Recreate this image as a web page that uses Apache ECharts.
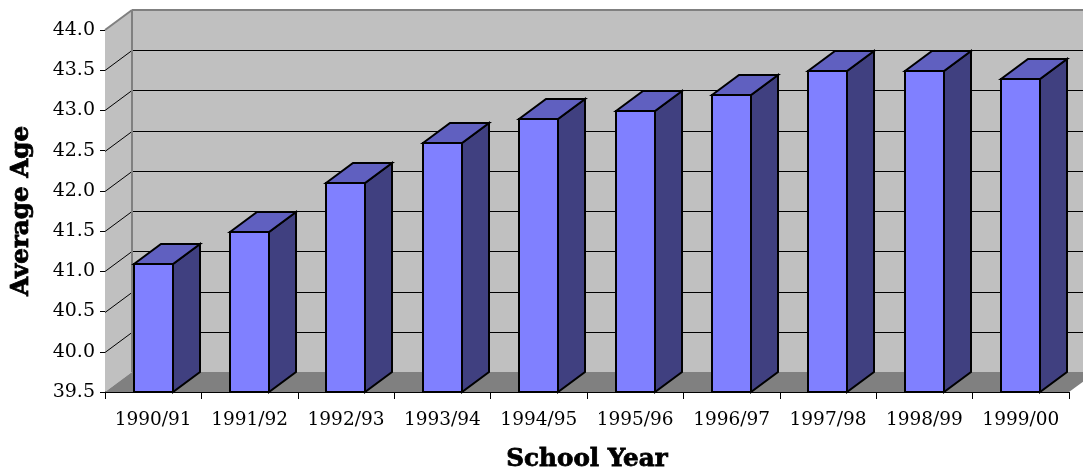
<!DOCTYPE html>
<html><head><meta charset="utf-8">
<script src="https://cdn.jsdelivr.net/npm/echarts@6/dist/echarts.min.js"></script>
<style>html,body{margin:0;padding:0;background:#fff}#c{width:1083px;height:468px}</style>
</head><body><div id="c"></div>
<script>
const categories = ['1990/91','1991/92','1992/93','1993/94','1994/95','1995/96','1996/97','1997/98','1998/99','1999/00'];
const averageAge = [41.1,41.5,42.1,42.6,42.9,43.0,43.2,43.5,43.5,43.4];
const yMin = 39.5, yMax = 44.0, yStep = 0.5;
const yTicks = [39.5,40,40.5,41,41.5,42,42.5,43,43.5,44];
const DX = 27, DY = -20;
const FONT = '"DejaVu Serif", serif';

function poly(points, fill, stroke, lw) {
  return {type:'polygon', shape:{points}, style:{fill, stroke, lineWidth:lw, lineJoin:'miter'}};
}
function line(x1,y1,x2,y2,stroke,lw){
  return {type:'line', shape:{x1,y1,x2,y2}, style:{stroke, lineWidth:lw, fill:null}};
}
function renderWalls(params, api){
  const r = params.coordSys, L=r.x, R=r.x+r.width, T=r.y, B=r.y+r.height;
  const ch = [];
  ch.push(poly([[L+DX,T+DY],[R+DX,T+DY],[R+DX,B+DY],[L+DX,B+DY]],'#C0C0C0',null,0));
  ch.push(poly([[L,T],[L+DX,T+DY],[L+DX,B+DY],[L,B]],'#C0C0C0',null,0));
  ch.push(poly([[L,B],[L+DX,B+DY],[R+DX,B+DY],[R,B]],'#808080',null,0));
  yTicks.forEach(t=>{
    if(t===yMin||t===yMax) return;
    const y=Math.round(api.coord([0,t])[1])+0.5;
    ch.push(line(L,y,L+DX,y+DY,'#000',1));
    ch.push(line(L+DX,y+DY,R+DX,y+DY,'#000',1));
  });
  ch.push(line(L,T,L+DX,T+DY,'#808080',2));
  ch.push(line(L+DX,T+DY,R+DX,T+DY,'#808080',2));
  ch.push(line(L+DX,T+DY,L+DX,B+DY,'#808080',2));
  return {type:'group',children:ch};
}
function renderBar(params, api){
  const c = api.coord([api.value(0), api.value(1)]);
  const base = api.coord([api.value(0), yMin]);
  const w = api.size([1,0])[0]*0.405;
  const x0=Math.round(c[0]-w/2), x1=x0+39, y=Math.ceil(c[1]), b=Math.round(base[1]);
  return {type:'group',children:[
    poly([[x1,y],[x1+DX,y+DY],[x1+DX,b+DY],[x1,b]],'#404080','#000',2),
    poly([[x0,y],[x0+DX,y+DY],[x1+DX,y+DY],[x1,y]],'#6060C0','#000',2),
    poly([[x0,y],[x1,y],[x1,b],[x0,b]],'#8080FF','#000',2)
  ]};
}
const chart = echarts.init(document.getElementById('c'),null,{renderer:'canvas'});
chart.setOption({
  animation:false,
  backgroundColor:'#fff',
  grid:{left:105,right:14,top:30,bottom:76,containLabel:false,outerBoundsMode:'none'},
  xAxis:{type:'category',data:categories,boundaryGap:true,
    name:'School Year',nameLocation:'middle',nameGap:55,
    nameTextStyle:{fontFamily:FONT,fontWeight:'bold',fontSize:24.6,color:'#000',textBorderColor:'#000',textBorderWidth:0.8},
    axisLine:{show:true,lineStyle:{color:'#000',width:1}},
    axisTick:{show:true,length:7,alignWithLabel:false,lineStyle:{color:'#000',width:1}},
    axisLabel:{interval:0,margin:19,fontFamily:FONT,fontSize:18.5,color:'#000'},
    splitLine:{show:false}},
  yAxis:{type:'value',min:yMin,max:yMax,interval:yStep,
    name:'Average Age',nameLocation:'middle',nameGap:71,nameRotate:90,
    nameTextStyle:{fontFamily:FONT,fontWeight:'bold',fontSize:24.6,color:'#000',textBorderColor:'#000',textBorderWidth:0.8},
    axisLine:{show:true,lineStyle:{color:'#000',width:1}},
    axisTick:{show:true,length:5,lineStyle:{color:'#000',width:1}},
    axisLabel:{margin:10,padding:[4,0,0,0],fontFamily:FONT,fontSize:19,color:'#000',formatter:v=>v.toFixed(1)},
    splitLine:{show:false}},
  series:[
    {type:'custom',z:1,clip:false,silent:true,data:[[0,yMin]],renderItem:renderWalls,encode:{x:0,y:1}},
    {type:'custom',z:3,clip:false,silent:true,
     data:categories.map((c,i)=>[i,averageAge[i]]),renderItem:renderBar,encode:{x:0,y:1}}
  ]
});
</script></body></html>
